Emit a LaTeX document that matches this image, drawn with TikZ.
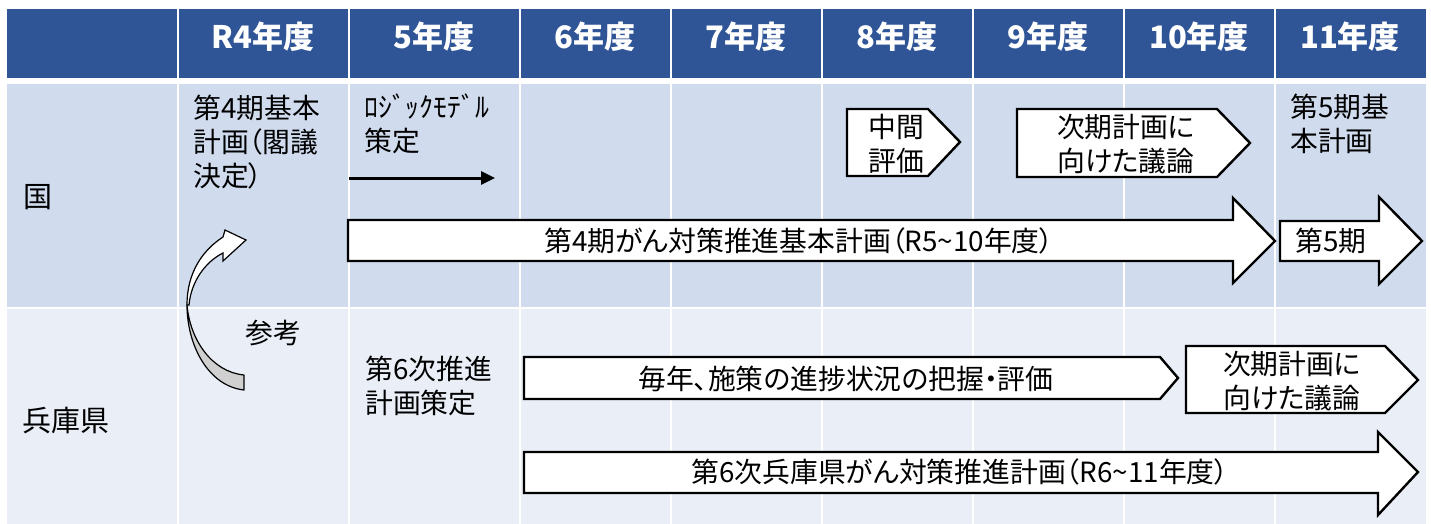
\documentclass[tikz,border=0pt]{standalone}
\usepackage{fontspec}
\setmainfont{Noto Sans CJK JP}
\newfontfamily\pjfont[RawFeature=+palt]{Noto Sans CJK JP}
\usetikzlibrary{arrows.meta}
\definecolor{hdr}{HTML}{2F5597}
\definecolor{rowA}{HTML}{D0DCEE}
\definecolor{rowB}{HTML}{E9EEF7}
\definecolor{tailgray}{HTML}{D0D0D0}
\newcommand\bodyfs{\pjfont\fontsize{27.8}{34}\selectfont}
\newcommand\hdrfs{\fontsize{31}{34}\selectfont\bfseries}
\newcommand\lblfs{\fontsize{29}{34}\selectfont}
\newcommand\tld{\textasciitilde}
\begin{document}
\begin{tikzpicture}[x=1pt,y=-1pt,
  hdrtext/.style={text=white,font=\hdrfs,inner sep=0pt},
  bodytext/.style={font=\bodyfs,inner sep=0pt},
  shapebox/.style={draw=black,fill=white,line width=2.4pt,line join=miter},
  ]
\useasboundingbox (0,0) rectangle (1431,524);
\fill[white] (0,0) rectangle (1431,524);
% grid cells
\foreach \xa/\xb in {7/177,179/348,350/519,521/670,672/821,823/972,974/1123,1125/1274,1276/1426}{
  \fill[hdr] (\xa,9) rectangle (\xb,78);
  \fill[rowA] (\xa,84) rectangle (\xb,307);
  \fill[rowB] (\xa,309) rectangle (\xb,524);
}
% header texts
\node[hdrtext] (h1) at (263,37) {R4年度};
\node[hdrtext] (h2) at (434,37) {5年度};
\node[hdrtext] (h3) at (595,37) {6年度};
\node[hdrtext] (h4) at (746,37) {7年度};
\node[hdrtext] (h5) at (897,37) {8年度};
\node[hdrtext] (h6) at (1048,37) {9年度};
\node[hdrtext] (h7) at (1199,37) {10年度};
\node[hdrtext] (h8) at (1350,37) {11年度};
% row labels
\node[font=\lblfs,inner sep=0pt,anchor=west] (kuni) at (23,197) {国};
\node[font=\lblfs,inner sep=0pt,anchor=west] (hyogo) at (22,421) {兵庫県};
% row 1 texts
\node[bodytext,anchor=west,align=left] (plan4) at (193,142) {第4期基本\\計画（閣議\\決定）};
\node[bodytext,anchor=west,align=left] (logic) at (364,124) {ﾛｼﾞｯｸﾓﾃﾞﾙ\\策定};
\node[bodytext,anchor=west,align=left] (plan5) at (1290,124) {第5期基\\本計画};
% thin arrow
\coordinate (la) at (349,178);
\coordinate (lb) at (495,178);
\draw[line width=3pt,-{Triangle[length=14pt,width=13pt]}] (la) -- (lb);
% big arrow 1
\draw[shapebox] (348,220) -- (1233,220) -- (1233,198) -- (1275,241) -- (1233,283) -- (1233,261) -- (348,261) -- cycle;
\node[bodytext] (big1) at (799,241) {第4期がん対策推進基本計画（R5\tld10年度）};
% arrow 5th
\draw[shapebox] (1280,221) -- (1379,221) -- (1379,197) -- (1422,241) -- (1379,284) -- (1379,261) -- (1280,261) -- cycle;
\node[bodytext] (fifth) at (1331,241) {第5期};
% pentagons row 1
\draw[shapebox] (847,109) -- (928,109) -- (960,142) -- (928,176) -- (847,176) -- cycle;
\node[bodytext,align=center] (mid) at (896,144) {中間\\評価};
\draw[shapebox] (1017,109) -- (1217,109) -- (1250,143) -- (1217,177) -- (1017,177) -- cycle;
\node[bodytext,align=center] (next1) at (1126,144) {次期計画に\\向けた議論};
% curved arrow
\filldraw[fill=tailgray,draw=black,line width=1.2pt,line join=round]
  (244,375) -- (244,390) .. controls (208,386) and (187,345) .. (187,305)
  .. controls (190,340) and (212,372) .. (244,375) -- cycle;
\filldraw[fill=white,draw=black,line width=1.2pt,line join=miter]
  (187,305) .. controls (187,272) and (203,250) .. (223,237) -- (225,230) -- (246,240)
  -- (223,261) -- (223,253) .. controls (205,262) and (191,282) .. (189,305) -- cycle;
\node[bodytext] (ref) at (273,333) {参考};
% row 2
\node[bodytext,anchor=west,align=left] (pref6) at (365,386) {第6次推進\\計画策定};
\draw[shapebox] (524,357) -- (1160,357) -- (1178,378) -- (1160,399) -- (524,399) -- cycle;
\node[bodytext] (yearly) at (846,379) {毎年、施策の進捗状況の把握・評価};
\draw[shapebox] (1186,346) -- (1385,346) -- (1418,380) -- (1385,413) -- (1186,413) -- cycle;
\node[bodytext,align=center] (next2) at (1292,381) {次期計画に\\向けた議論};
\draw[shapebox] (524,452) -- (1378,452) -- (1378,432) -- (1418,472) -- (1378,515) -- (1378,493) -- (524,493) -- cycle;
\node[bodytext] (big2) at (960,472) {第6次兵庫県がん対策推進計画（R6\tld11年度）};
\end{tikzpicture}
\end{document}
